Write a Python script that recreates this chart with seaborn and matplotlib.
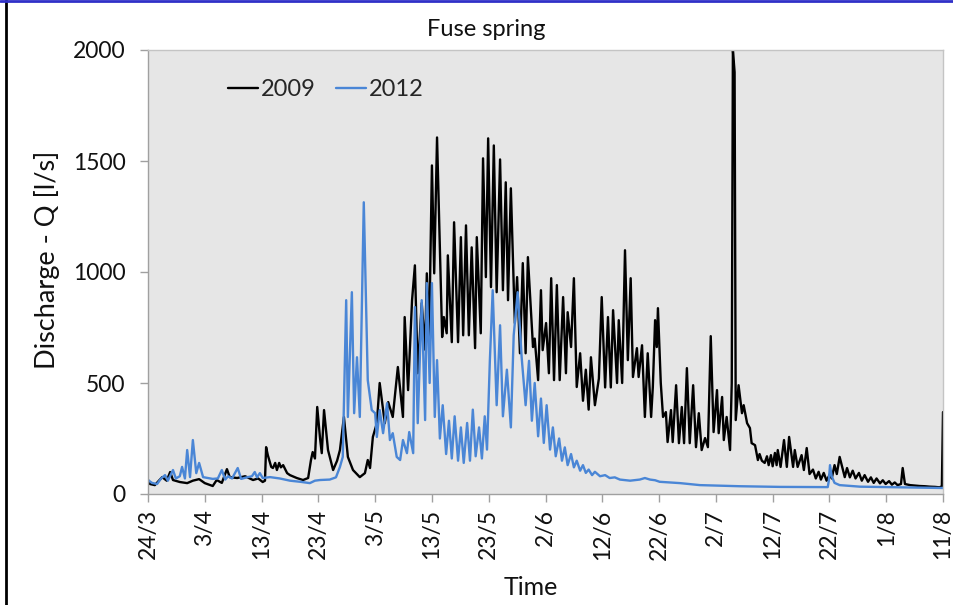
import matplotlib
matplotlib.use("Agg")
import matplotlib.pyplot as plt
import numpy as np
import pandas as pd
import seaborn as sns
from matplotlib.lines import Line2D

# ---- data (days after 24 March, discharge in l/s) ----
days_2009 = [0, 0.35, 1.2, 2.5, 3.3, 3.9, 4.4, 5.6, 6.9, 7.9, 9.0, 10.0, 11.4, 12.1, 13.0,
             13.9, 14.4, 15.7, 17.1, 18.5, 19.4, 20.2, 20.6, 20.8, 21.1, 21.7, 22.0, 22.4,
             22.7, 23.1, 23.4, 23.8, 24.5, 25.0, 26.2, 27.3, 28.2, 28.7, 29.0, 29.4, 29.8,
             30.3, 30.6, 31.0, 31.7, 32.6, 33.3, 33.8, 34.5, 35.2, 36.1, 37.3, 38.2, 38.7,
             39.1, 39.6, 40.3, 40.8, 41.7, 42.3, 43.1, 44.0, 44.9, 45.2, 45.8, 46.5, 47.0,
             47.5, 48.2, 48.8, 49.1, 49.5, 50.0, 50.4, 50.9, 51.8, 52.1, 52.6, 52.8, 53.5,
             53.9, 54.6, 55.1, 55.5, 56.0, 56.5, 57.0, 57.6, 57.9, 58.6, 59.0, 59.5, 59.9,
             60.4, 60.9, 61.4, 62.0, 62.5, 63.0, 63.4, 63.9, 64.6, 65.0, 65.5, 66.0, 66.5,
             66.9, 67.8, 68.1, 68.7, 69.2, 69.5, 70.1, 70.6, 71.0, 71.5, 72.0, 72.5, 73.1,
             73.6, 73.9, 74.5, 75.0, 75.5, 76.1, 76.6, 77.1, 77.6, 78.0, 78.7, 79.4, 79.9,
             80.5, 81.0, 81.5, 81.9, 82.6, 82.9, 83.5, 84.0, 84.5, 85.0, 85.4, 86.1, 86.4,
             87.0, 87.5, 88.0, 88.6, 88.9, 89.3, 89.6, 89.8, 90.3, 90.7, 91.2, 91.5, 92.1,
             92.4, 93.0, 93.5, 94.0, 94.4, 94.9, 95.4, 96.0, 96.5, 97.0, 97.5, 98.1, 98.6,
             99.1, 99.6, 100.2, 100.5, 101.1, 101.4, 101.9, 102.5, 102.8, 103.0, 103.3,
             103.5, 104.0, 104.6, 104.9, 105.5, 106.0, 106.3, 106.9, 107.4, 107.7, 108.1,
             108.6, 109.0, 109.3, 109.7, 110.0, 110.4, 110.7, 110.9, 111.4, 112.0, 112.5,
             112.9, 113.6, 113.9, 114.4, 115.1, 115.5, 116.0, 116.5, 117.1, 117.6, 118.1,
             118.5, 119.0, 119.5, 120.1, 120.4, 120.9, 121.3, 121.8, 122.7, 123.1, 123.6,
             124.1, 124.6, 125.2, 125.7, 126.2, 126.8, 127.3, 127.8, 128.3, 128.9, 129.4,
             129.9, 130.5, 131.0, 131.5, 132.0, 132.6, 132.9, 133.3, 134.2, 135.0, 135.9,
             136.8, 137.7, 138.6, 139.4, 139.8, 140.0]
q_2009 = [63, 45, 40, 76, 60, 99, 63, 54, 49, 60, 67, 49, 36, 63, 50,
          112, 76, 72, 80, 63, 70, 54, 60, 211, 175, 122, 117, 140,
          108, 140, 120, 130, 94, 85, 72, 63, 72, 153, 189, 160, 392,
          250, 184, 378, 198, 108, 150, 198, 347, 167, 108, 76, 94, 153,
          117, 257, 319, 500, 319, 414, 347, 572, 347, 797, 468, 873, 1030,
          544, 860, 650, 994, 693, 1480, 994, 1606, 707, 797, 724, 1075, 684,
          1224, 684, 1157, 715, 1210, 715, 1111, 657, 1157, 724, 1512, 977, 1602,
          932, 1570, 909, 1507, 918, 1404, 873, 1377, 770, 977, 634, 1040, 634,
          1067, 662, 700, 513, 918, 648, 770, 544, 972, 513, 941, 513, 887,
          544, 819, 662, 972, 482, 634, 420, 560, 380, 616, 400, 520, 887,
          480, 797, 480, 828, 500, 783, 500, 1098, 603, 972, 527, 657, 527,
          670, 347, 634, 347, 482, 783, 662, 837, 500, 347, 369, 234, 378,
          234, 490, 229, 392, 229, 567, 229, 490, 211, 364, 198, 252, 211,
          711, 279, 468, 274, 437, 243, 347, 198, 500, 2000, 1900,
          333, 490, 364, 400, 319, 297, 229, 220, 153, 180, 150,
          140, 170, 130, 175, 125, 185, 130, 198, 122, 243, 122,
          257, 122, 198, 122, 175, 108, 207, 90, 110, 70, 100,
          65, 95, 60, 90, 70, 130, 90, 167, 76, 117, 75,
          105, 70, 95, 60, 85, 55, 75, 50, 70, 48, 62,
          45, 58, 42, 52, 40, 45, 117, 45, 40, 38, 36,
          35, 33, 32, 30, 35, 369]

days_2012 = [0, 0.7, 1.6, 2.3, 3.0, 3.5, 4.4, 4.9, 5.6, 6.0, 6.5, 6.9, 7.4, 7.9, 8.5, 9.0,
             9.7, 10.6, 11.4, 12.3, 13.0, 13.6, 14.1, 14.8, 15.8, 16.4, 17.4, 18.3, 18.8,
             19.2, 19.7, 20.2, 21.5, 23.2, 25.0, 26.8, 28.5, 29.4, 30.3, 32.0, 33.1, 33.8,
             34.3, 34.9, 35.2, 35.9, 36.3, 36.8, 37.3, 38.0, 38.7, 39.4, 40.0, 40.3, 40.8,
             41.4, 42.1, 42.6, 43.1, 43.8, 44.4, 44.9, 45.6, 46.0, 46.7, 47.0, 47.5, 48.2,
             48.8, 49.1, 49.6, 50.0, 50.5, 50.9, 51.4, 51.9, 52.5, 53.0, 53.5, 54.0, 54.6,
             55.1, 55.6, 56.2, 56.7, 57.2, 57.7, 58.3, 58.8, 59.3, 59.7, 60.2, 60.7, 61.4,
             62.0, 62.5, 63.2, 63.9, 64.4, 65.1, 65.8, 66.5, 67.1, 67.6, 68.1, 68.7, 69.2,
             69.7, 70.2, 70.8, 71.3, 71.8, 72.4, 72.9, 73.4, 73.9, 74.5, 75.0, 75.5, 76.1,
             76.6, 77.1, 77.6, 78.2, 78.7, 79.6, 80.5, 81.3, 82.2, 83.1, 84.9, 86.6, 87.5,
             88.4, 89.3, 90.1, 93.7, 97.2, 104.2, 111.3, 119.7, 119.9, 120.1, 120.4, 120.9,
             121.8, 125.4, 132.4, 140.0]
q_2012 = [63, 50, 45, 70, 85, 60, 108, 70, 80, 122, 70, 198, 76, 243, 94, 140,
          76, 72, 68, 70, 108, 65, 80, 70, 117, 68, 75, 80, 99,
          75, 94, 72, 76, 70, 60, 55, 49, 60, 63, 65, 75, 122,
          167, 873, 347, 909, 364, 616, 347, 1314, 513, 378, 364, 257, 378,
          274, 409, 243, 274, 167, 153, 243, 184, 279, 184, 842, 319, 873,
          333, 950, 500, 950, 347, 603, 250, 400, 180, 330, 160, 350, 150,
          300, 140, 320, 150, 380, 170, 300, 160, 350, 200, 600, 918, 400,
          760, 350, 560, 300, 715, 909, 616, 400, 600, 330, 500, 260, 430,
          230, 400, 200, 300, 170, 250, 150, 210, 130, 180, 120, 150, 105,
          130, 95, 110, 85, 100, 80, 85, 72, 75, 65, 60, 65, 72,
          65, 62, 55, 49, 40, 35, 32, 31, 60, 130, 80, 50,
          40, 33, 30, 27]

tick_days = [0, 10, 20, 30, 40, 50, 60, 70, 80, 90, 100, 110, 120, 130, 140]
tick_labels = ["24/3", "3/4", "13/4", "23/4", "3/5", "13/5", "23/5", "2/6",
               "12/6", "22/6", "2/7", "12/7", "22/7", "1/8", "11/8"]
y_ticks = [0, 500, 1000, 1500, 2000]
series_names = ["2009", "2012"]
series_colors = ["#000000", "#4a86d6"]

df = pd.concat([
    pd.DataFrame({"Time": days_2009, "Q": q_2009, "Year": series_names[0]}),
    pd.DataFrame({"Time": days_2012, "Q": q_2012, "Year": series_names[1]}),
], ignore_index=True)

sns.set_theme(style="white")
plt.rcParams["font.family"] = ["Lato", "DejaVu Sans"]

W, H = 954, 605
fig = plt.figure(figsize=(W / 100, H / 100), dpi=100)
fig.patch.set_facecolor("white")
ax = fig.add_axes([148 / W, 1 - 494 / H, 795 / W, 444 / H])
ax.set_facecolor("#e6e6e6")

sns.lineplot(data=df, x="Time", y="Q", hue="Year", hue_order=series_names,
             palette=dict(zip(series_names, series_colors)), linewidth=1.7,
             estimator=None, sort=False, ax=ax, legend=False)

ax.set_xlim(tick_days[0], tick_days[-1])
ax.set_ylim(y_ticks[0], y_ticks[-1])
ax.set_xticks(tick_days)
ax.set_xticklabels(tick_labels, rotation=90, fontsize=16.5, color="#111111")
ax.set_yticks(y_ticks)
ax.set_yticklabels([str(v) for v in y_ticks], fontsize=16.5, color="#111111")
ax.tick_params(axis="y", direction="out", length=6, width=1, color="#a0a0a0", pad=10, left=True)
ax.tick_params(axis="x", direction="out", length=6, width=1, color="#a0a0a0", pad=5, bottom=True)
for s in ax.spines.values():
    s.set_color("#c4c4c4")
    s.set_linewidth(1)
ax.spines["left"].set_color("#a0a0a0")
ax.spines["bottom"].set_color("#a0a0a0")

ax.set_xlabel("Time", fontsize=18, color="#111111")
ax.xaxis.set_label_coords((531 - 148) / 795, (494 - 576) / 444)
ax.set_ylabel("Discharge - Q [l/s]", fontsize=19.5, color="#111111")
ax.yaxis.set_label_coords((60 - 148) / 795, (494 - 260) / 444)
ax.set_title("Fuse spring", fontsize=17, color="#111111", x=(486 - 148) / 795, pad=10)

handles = [Line2D([0], [0], color=c, lw=1.7) for c in series_colors]
ax.legend(handles, series_names, loc="center left", bbox_to_anchor=(0.074, 0.91),
          ncol=2, frameon=False, fontsize=17, handlelength=1.25, handletextpad=0.15,
          columnspacing=0.85)

# figure frame remnants
fig.add_artist(Line2D([6 / W, 6 / W], [0, 1], color="black", lw=2, transform=fig.transFigure))
fig.add_artist(Line2D([0, 1], [1 - 1 / H, 1 - 1 / H], color="#3030c8", lw=2, transform=fig.transFigure))

fig.savefig("out.png", dpi=100)
